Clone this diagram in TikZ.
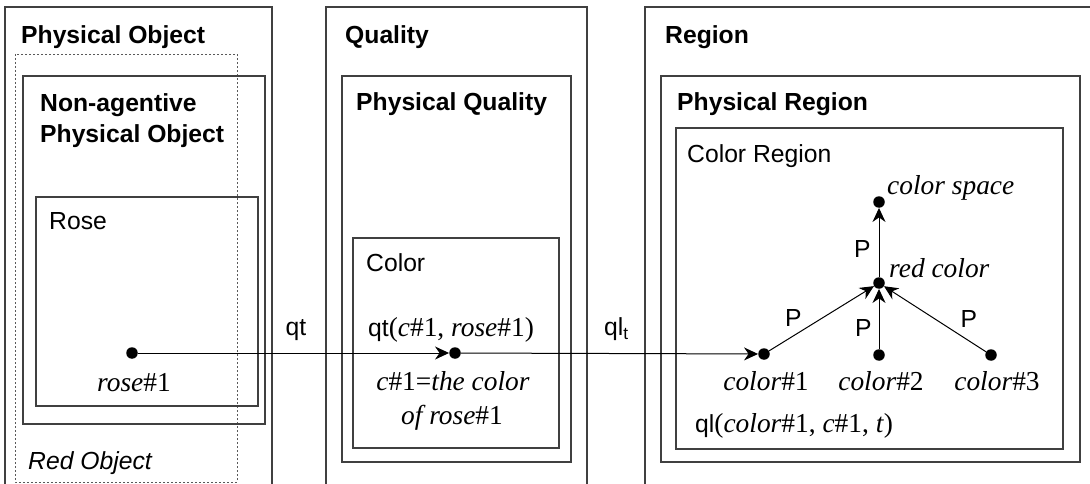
\documentclass[tikz,border=0pt]{standalone}
\usepackage{fontspec}
\setmainfont{Liberation Serif}
\setsansfont{Liberation Sans}
\usetikzlibrary{arrows.meta,calc}
\newcommand\mysf{\sffamily\fontsize{24.7}{31}\selectfont}
\newcommand\myrm{\rmfamily\fontsize{27.4}{34}\selectfont}
\begin{document}
\begin{tikzpicture}[x=1pt,y=-1pt,
  box/.style={draw=black!75, line width=1.1pt},
  dashbox/.style={draw=black!65, line width=0.8pt, dash pattern=on 2pt off 2pt},
  head/.style={font=\mysf\bfseries, inner sep=0, anchor=base west},
  sans/.style={font=\mysf, inner sep=0},
  ser/.style={font=\myrm, inner sep=0},
  dot/.style={circle, fill=black, inner sep=0, minimum size=11.5pt},
  arr/.style={line width=1pt, -{Stealth[length=14pt,width=13pt,inset=4.5pt]}},
]
\useasboundingbox (0,0) rectangle (1090,484);

% ---------- column 1 ----------
\draw[box] (5,484) -- (5,7) -- (272,7) -- (272,484);
\node[head] (po) at (21,44) {Physical Object};
\draw[dashbox] (15,54) rectangle (237,482);
\draw[box] (23,76) rectangle (265,424);
\node[head, anchor=north west, align=left] (nap) at (40,93.5) {Non-agentive\\Physical Object};
\draw[box] (36,197) rectangle (258,406);
\node[sans, anchor=base west] (rosel) at (49,229) {Rose};
\node[dot] (rose) at (132,353) {};
\node[ser, anchor=base] (rosetxt) at (134,391) {\textit{rose}\#1};
\node[sans, anchor=base west, font=\mysf\itshape] (red) at (28,469) {Red Object};

% ---------- column 2 ----------
\draw[box] (326,484) -- (326,7) -- (587,7) -- (587,484);
\node[head] (q) at (345,44) {Quality};
\draw[box] (342,76) rectangle (571,462);
\node[head] (pq) at (356,111) {Physical Quality};
\draw[box] (353,238) rectangle (559,448);
\node[sans, anchor=base west] (col) at (366,271) {Color};
\node[anchor=base west, inner sep=0] (qtf) at (368,336) {\mysf qt\myrm(\textit{c}\#1, \textit{rose}\#1)};
\node[dot] (c1) at (455,353) {};
\node[ser, anchor=base] (ctxt1) at (453,390) {\textit{c}\#1=\textit{the color}};
\node[ser, anchor=base] (ctxt2) at (452,424) {\textit{of rose}\#1};

% ---------- column 3 ----------
\draw[box] (645,484) -- (645,7) -- (1090,7);
\node[head] (rg) at (665,44) {Region};
\draw[box] (661,76) rectangle (1080,462);
\node[head] (pr) at (677,111) {Physical Region};
\draw[box] (676,128) rectangle (1063,449);
\node[sans, anchor=base west] (cr) at (687,163) {Color Region};

\node[dot] (cs) at (879,202) {};
\node[dot] (rc) at (879,283) {};
\node[dot] (k1) at (764,354) {};
\node[dot] (k2) at (879,355) {};
\node[dot] (k3) at (991,355) {};

\node[ser, anchor=base west] (cst) at (887,194) {\textit{color space}};
\node[ser, anchor=base west] (rct) at (889,277) {\textit{red color}};
\node[ser, anchor=base] (k1t) at (766,390) {\textit{color}\#1};
\node[ser, anchor=base] (k2t) at (881,390) {\textit{color}\#2};
\node[ser, anchor=base] (k3t) at (997,390) {\textit{color}\#3};
\node[anchor=base west, inner sep=0] (qlf) at (695,432) {\mysf ql\myrm(\textit{color}\#1, \textit{c}\#1, \textit{t})};

% ---------- connectors ----------
\draw[arr] (rose) -- node[sans, pos=0.508, anchor=base, yshift=18pt] {qt} (c1);
\draw[arr] (c1) -- node[sans, pos=0.48, anchor=base west, yshift=18pt] {ql\textsubscript{t}} (k1);
\draw[arr] (k1) -- node[sans, midway, anchor=east, xshift=-19.5pt] {P} (rc);
\draw[arr] (k2) -- node[sans, midway, anchor=east, xshift=-7pt, yshift=-9pt] {P} (rc);
\draw[arr] (k3) -- node[sans, midway, anchor=west, xshift=25pt] {P} (rc);
\draw[arr] (rc) -- node[sans, midway, anchor=east, xshift=-8pt, yshift=-6.5pt] {P} (cs);
\end{tikzpicture}
\end{document}
